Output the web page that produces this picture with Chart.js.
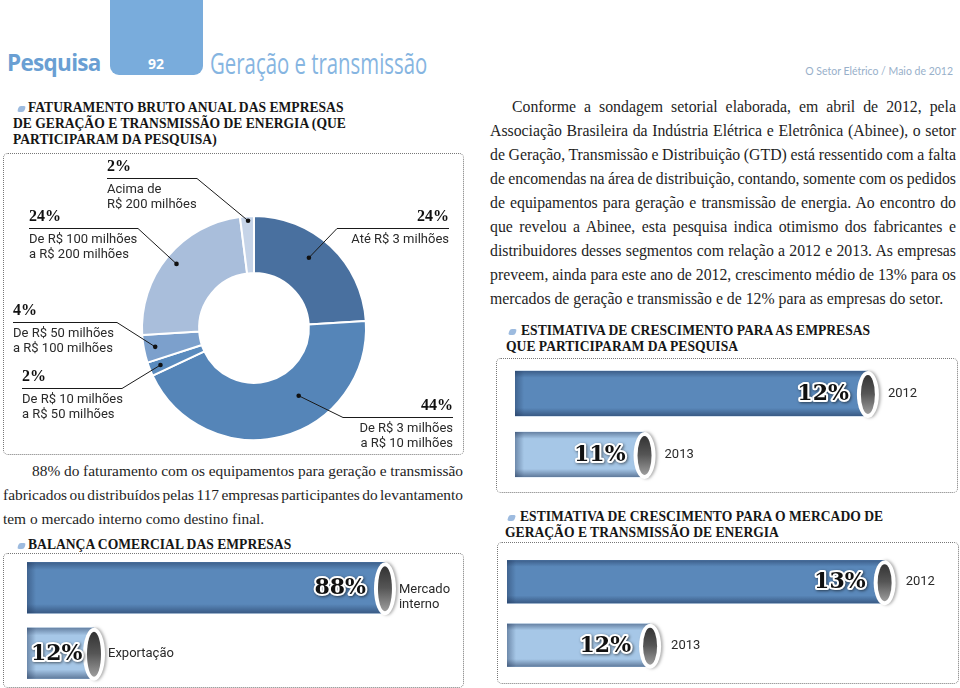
<!DOCTYPE html>
<html lang="pt-BR">
<head>
<meta charset="utf-8">
<title>Pesquisa 92 - Geração e transmissão</title>
<script src="https://cdn.jsdelivr.net/npm/chart.js@4.4.1/dist/chart.umd.min.js"></script>
<style>
  body { margin: 0; width: 960px; height: 688px; overflow: hidden; background: #fff; position: relative;
         font-family: 'Liberation Serif', serif; color: #1e1e1e; }
  .abs { position: absolute; }
  .tab { left: 110px; top: 0; width: 93px; height: 75px; background: #79acdc; border-radius: 0 0 9px 9px; }
  #pesq { left: 7px; top: 52px; font: bold 22.5px/1 'Open Sans', sans-serif; color: #6a9fd3; letter-spacing: -0.7px; }
  #num { left: 148px; top: 57px; font: bold 14px/1 'Open Sans', sans-serif; color: #fff; }
  #sec { left: 210px; top: 48px; font: 29px/1 'Open Sans', sans-serif; color: #86b5e1; transform-origin: 0 0; white-space: nowrap; }
  #rev { right: 7px; top: 66px; font: 10.5px/1 Lato, sans-serif; color: #98b0ca; }
  .head { font: bold 13.6px/16px 'Liberation Serif', serif; color: #161616; text-indent: 15px; white-space: nowrap; }
  .bul { width: 7px; height: 6px; background: #9dbbdf; border-radius: 2px; transform: skewX(-18deg); }
  .box { border: 1px dotted #777; border-radius: 5px; box-sizing: border-box; }
  .para { line-height: 24px; color: #1e1e1e; }
  .ln { display: block; white-space: nowrap; }
  canvas { position: absolute; }
</style>
</head>
<body>
<div class="abs tab"></div>
<div class="abs" id="pesq">Pesquisa</div>
<div class="abs" id="num">92</div>
<div class="abs" id="sec">Geração e transmissão</div>
<div class="abs" id="rev">O Setor Elétrico / Maio de 2012</div>

<div class="abs bul" style="left:18px; top:106px"></div>
<div class="abs head" style="left:13px; top:100px">FATURAMENTO BRUTO ANUAL DAS EMPRESAS<br>DE GERAÇÃO E TRANSMISSÃO DE ENERGIA (QUE<br>PARTICIPARAM DA PESQUISA)</div>
<div class="abs box" style="left:3px; top:153px; width:461px; height:302px"></div>
<canvas id="donut" width="470" height="305" style="left:0; top:153px; width:470px; height:305px"></canvas>

<div class="abs para" style="left:3px; top:459px; width:460px; font-size:15.4px">
  <span class="ln" data-w="460" style="padding-left:29px">88% do faturamento com os equipamentos para geração e transmissão</span>
  <span class="ln" data-w="460">fabricados ou distribuídos pelas 117 empresas participantes do levantamento</span>
  <span class="ln">tem o mercado interno como destino final.</span>
</div>

<div class="abs bul" style="left:18px; top:543px"></div>
<div class="abs head" style="left:13px; top:537px">BALANÇA COMERCIAL DAS EMPRESAS</div>
<div class="abs box" style="left:3px; top:553px; width:461px; height:135px"></div>
<canvas id="balanca" width="460" height="135" style="left:3px; top:553px; width:460px; height:135px"></canvas>

<div class="abs para" style="left:490px; top:95px; width:466px; font-size:15.8px">
  <span class="ln" data-w="466" style="padding-left:22px">Conforme a sondagem setorial elaborada, em abril de 2012, pela</span>
  <span class="ln" data-w="466">Associação Brasileira da Indústria Elétrica e Eletrônica (Abinee), o setor</span>
  <span class="ln" data-w="466">de Geração, Transmissão e Distribuição (GTD) está ressentido com a falta</span>
  <span class="ln" data-w="466">de encomendas na área de distribuição, contando, somente com os pedidos</span>
  <span class="ln" data-w="466">de equipamentos para geração e transmissão de energia. Ao encontro do</span>
  <span class="ln" data-w="466">que revelou a Abinee, esta pesquisa indica otimismo dos fabricantes e</span>
  <span class="ln" data-w="466">distribuidores desses segmentos com relação a 2012 e 2013. As empresas</span>
  <span class="ln" data-w="466">preveem, ainda para este ano de 2012, crescimento médio de 13% para os</span>
  <span class="ln">mercados de geração e transmissão e de 12% para as empresas do setor.</span>
</div>

<div class="abs bul" style="left:509px; top:329px"></div>
<div class="abs head" style="left:506px; top:323px">ESTIMATIVA DE CRESCIMENTO PARA AS EMPRESAS<br>QUE PARTICIPARAM DA PESQUISA</div>
<div class="abs box" style="left:496px; top:358px; width:462px; height:135px"></div>
<canvas id="empresas" width="462" height="135" style="left:495px; top:358px; width:462px; height:135px"></canvas>

<div class="abs bul" style="left:508px; top:515px"></div>
<div class="abs head" style="left:505px; top:509px">ESTIMATIVA DE CRESCIMENTO PARA O MERCADO DE<br>GERAÇÃO E TRANSMISSÃO DE ENERGIA</div>
<div class="abs box" style="left:497px; top:542px; width:462px; height:142px"></div>
<canvas id="mercado" width="460" height="147" style="left:497px; top:541px; width:460px; height:147px"></canvas>

<script>
// faturamento bruto anual (donut)
const faixas = [
  ['Até R$ 3 milhões'],
  ['De R$ 3 milhões', 'a R$ 10 milhões'],
  ['De R$ 10 milhões', 'a R$ 50 milhões'],
  ['De R$ 50 milhões', 'a R$ 100 milhões'],
  ['De R$ 100 milhões', 'a R$ 200 milhões'],
  ['Acima de', 'R$ 200 milhões']
];
const faturamento = [24, 44, 2, 4, 24, 2];

// balança comercial
const destinos = [['Mercado', 'interno'], 'Exportação'];
const balanca = [88, 12];

// estimativas de crescimento
const anos = ['2012', '2013'];
const crescEmpresas = [12, 11];
const crescMercado = [13, 12];

const coresFaixas = ['#49709f', '#5585b8', '#5a8bbe', '#7ca0cc', '#a9bedb', '#c6d4e8'];
const coresBarras = ['#5a88ba', '#a6c7e7'];

// fit header title and justify the paragraph lines
const sec = document.getElementById('sec');
sec.style.transform = 'scaleX(' + (217 / sec.offsetWidth) + ')';
document.querySelectorAll('.ln[data-w]').forEach(el => {
  const pad = parseFloat(el.style.paddingLeft || 0);
  const span = document.createElement('span');
  span.textContent = el.textContent.trim();
  el.textContent = '';
  el.appendChild(span);
  const w = span.getBoundingClientRect().width;
  const spaces = span.textContent.split(' ').length - 1;
  el.style.wordSpacing = ((parseFloat(el.dataset.w) - pad - w) / spaces) + 'px';
});

// callout placement inside the donut canvas
const callouts = [
  { x: 449, y: 64, rule: 112, side: 'right', at: 0.44, rf: 0.6 },
  { x: 453, y: 253, rule: 110, side: 'right', at: 0.38, rf: 0.46 },
  { x: 22, y: 224, rule: 100, side: 'left', at: 0.5, rf: 0.8 },
  { x: 13, y: 158, rule: 104, side: 'left', at: 0.5, rf: 0.8 },
  { x: 29, y: 64, rule: 109, side: 'left', at: 0.5, rf: 0.8 },
  { x: 107, y: 14, rule: 90, side: 'left', at: 0.56, rf: 0.92 }
];

const calloutPlugin = {
  id: 'callouts',
  afterDatasetsDraw(chart) {
    const ctx = chart.ctx;
    const arcs = chart.getDatasetMeta(0).data;
    ctx.save();
    arcs.forEach((arc, i) => {
      const c = callouts[i];
      const a = arc.startAngle + (arc.endAngle - arc.startAngle) * c.at;
      const r = arc.innerRadius + (arc.outerRadius - arc.innerRadius) * c.rf;
      const px = arc.x + Math.cos(a) * r, py = arc.y + Math.sin(a) * r;
      const ruleY = c.y + 11.5;
      const join = c.side === 'left' ? c.x + c.rule : c.x - c.rule;
      ctx.strokeStyle = '#1a1a1a';
      ctx.lineWidth = 1;
      ctx.beginPath();
      ctx.moveTo(c.x, ruleY);
      ctx.lineTo(join, ruleY);
      ctx.lineTo(px, py);
      ctx.stroke();
      ctx.fillStyle = '#111';
      ctx.beginPath();
      ctx.arc(px, py, 2.3, 0, Math.PI * 2);
      ctx.fill();
      ctx.textAlign = c.side;
      ctx.textBaseline = 'middle';
      ctx.font = 'bold 16px "Liberation Serif"';
      ctx.fillText(faturamento[i] + '%', c.x, c.y);
      ctx.font = '13px Roboto';
      ctx.fillStyle = '#2a2a2a';
      faixas[i].forEach((t, k) => ctx.fillText(t, c.x, c.y + 23 + k * 15));
    });
    ctx.restore();
  }
};

new Chart(document.getElementById('donut'), {
  type: 'doughnut',
  data: {
    labels: faixas.map(f => f.join(' ')),
    datasets: [{
      data: faturamento,
      backgroundColor: coresFaixas,
      borderColor: '#fff',
      borderWidth: 2
    }]
  },
  options: {
    responsive: false,
    animation: false,
    cutout: '49%',
    layout: { padding: { left: 141, right: 103, top: 62, bottom: 17 } },
    plugins: { legend: { display: false }, tooltip: { enabled: false } }
  },
  plugins: [calloutPlugin]
});

// shaded "cylinder" look for the horizontal bars
const cylinderPlugin = {
  id: 'cylinder',
  afterDatasetsDraw(chart, args, opts) {
    const ctx = chart.ctx;
    const values = chart.data.datasets[0].data;
    chart.getDatasetMeta(0).data.forEach((bar, i) => {
      const { x, y, base, height } = bar.getProps(['x', 'y', 'base', 'height'], true);
      const top = y - height / 2, bot = y + height / 2;
      ctx.save();
      let g = ctx.createLinearGradient(0, top, 0, bot);
      g.addColorStop(0, 'rgba(25,45,80,0.45)');
      g.addColorStop(0.15, 'rgba(25,45,80,0)');
      g.addColorStop(0.82, 'rgba(25,45,80,0)');
      g.addColorStop(1, 'rgba(25,45,80,0.5)');
      ctx.fillStyle = g;
      ctx.fillRect(base, top, x - base, height);
      g = ctx.createLinearGradient(base, 0, base + 9, 0);
      g.addColorStop(0, 'rgba(25,45,80,0.4)');
      g.addColorStop(1, 'rgba(25,45,80,0)');
      ctx.fillStyle = g;
      ctx.fillRect(base, top, 9, height);

      // end cap
      ctx.save();
      ctx.shadowColor = 'rgba(0,0,0,0.3)';
      ctx.shadowBlur = 3;
      ctx.shadowOffsetX = 2;
      ctx.fillStyle = '#fff';
      ctx.beginPath();
      ctx.ellipse(x, y + 1, 11, height / 2 + 1, 0, 0, Math.PI * 2);
      ctx.fill();
      ctx.restore();
      g = ctx.createLinearGradient(0, top, 0, bot);
      g.addColorStop(0, '#2c2c2c');
      g.addColorStop(0.5, '#555');
      g.addColorStop(1, '#a3a3a3');
      ctx.fillStyle = g;
      ctx.beginPath();
      ctx.ellipse(x, y + 1, 7, height / 2 - 3, 0, 0, Math.PI * 2);
      ctx.fill();

      // value
      const txt = values[i] + '%';
      ctx.font = 'bold 22px "DejaVu Serif"';
      const w = ctx.measureText(txt).width;
      const right = Math.max(x - 19, base + 4 + w);
      ctx.textAlign = 'right';
      ctx.textBaseline = 'middle';
      ctx.lineJoin = 'round';
      ctx.save();
      ctx.shadowColor = 'rgba(0,0,0,0.55)';
      ctx.shadowBlur = 3;
      ctx.shadowOffsetX = 1;
      ctx.shadowOffsetY = 1;
      ctx.strokeStyle = '#fff';
      ctx.lineWidth = 4;
      ctx.strokeText(txt, right, y + 1);
      ctx.restore();
      ctx.fillStyle = '#111';
      ctx.fillText(txt, right, y + 1);

      // category
      const lab = chart.data.labels[i];
      const lines = Array.isArray(lab) ? lab : [lab];
      ctx.font = '13px Roboto';
      ctx.fillStyle = '#2a2a2a';
      ctx.textAlign = 'left';
      lines.forEach((t, k) => ctx.fillText(t, x + opts.gap, y + (lines.length > 1 ? 2 : 0) + k * 15));
      ctx.restore();
    });
  }
};

function cylinderChart(id, labels, values, min, max, padding, thickness, gap) {
  return new Chart(document.getElementById(id), {
    type: 'bar',
    data: {
      labels: labels,
      datasets: [{ data: values, backgroundColor: coresBarras, base: min, barThickness: thickness }]
    },
    options: {
      indexAxis: 'y',
      responsive: false,
      animation: false,
      layout: { padding: padding },
      scales: {
        x: { display: false, min: min, max: max },
        y: { display: false }
      },
      plugins: { legend: { display: false }, tooltip: { enabled: false }, cylinder: { gap: gap } }
    },
    plugins: [cylinderPlugin]
  });
}

cylinderChart('balanca', destinos, balanca, -5.5, 107.6, { left: 24, right: 3, top: 2, bottom: 2 }, 51, 14);
cylinderChart('empresas', anos, crescEmpresas, 10.42, 12.39, { left: 20, right: 2, top: 5, bottom: 8 }, 45, 20);
cylinderChart('mercado', anos, crescMercado, 11.39, 13.3, { left: 10, right: 2, top: 9, bottom: 11 }, 43, 21);
</script>
</body>
</html>
